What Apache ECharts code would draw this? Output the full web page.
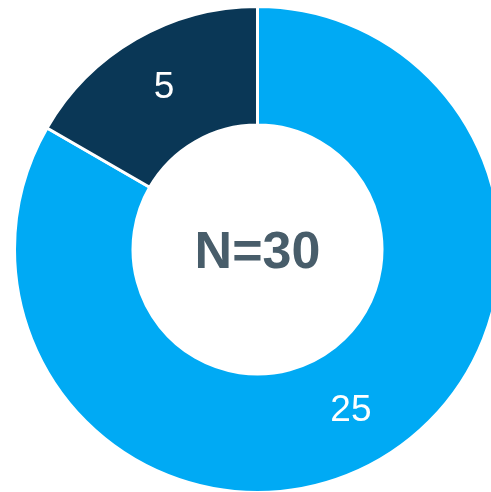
<!DOCTYPE html>
<html>
<head>
<meta charset="utf-8">
<script src="https://cdn.jsdelivr.net/npm/echarts@6/dist/echarts.min.js"></script>
<style>
  html, body { margin: 0; padding: 0; background: #fff; }
  #chart { width: 491px; height: 492px; }
</style>
</head>
<body>
<div id="chart"></div>
<script>
// data
const categories = ['A', 'B']
const values = [25, 5]
const colors = ['#00AAF4', '#0A3756']
const centerText = 'N=30'

const chart = echarts.init(document.getElementById('chart'))
const option = {
  animation: false,
  graphic: [
    {
      type: 'text',
      x: 257.5,
      y: 254,
      style: {
        text: centerText,
        fontFamily: 'Liberation Sans, Arial, sans-serif',
        fontWeight: 'bold',
        fontSize: 52,
        fill: '#485D6A',
        textAlign: 'center',
        textVerticalAlign: 'middle'
      }
    }
  ],
  series: [
    {
      type: 'pie',
      center: [257.5, 249.5],
      radius: [124.5, 243],
      startAngle: 90,
      clockwise: true,
      data: categories.map((c, i) => ({ name: c, value: values[i], itemStyle: { color: colors[i] } })),
      itemStyle: {
        borderColor: '#fff',
        borderWidth: 3
      },
      label: {
        show: true,
        position: 'inside',
        formatter: '{c}',
        color: '#fff',
        fontFamily: 'Liberation Sans, Arial, sans-serif',
        fontSize: 37,
        padding: [6, 0, 0, 0]
      },
      labelLine: { show: false },
      emphasis: { disabled: true }
    }
  ]
}
chart.setOption(option)
</script>
</body>
</html>
